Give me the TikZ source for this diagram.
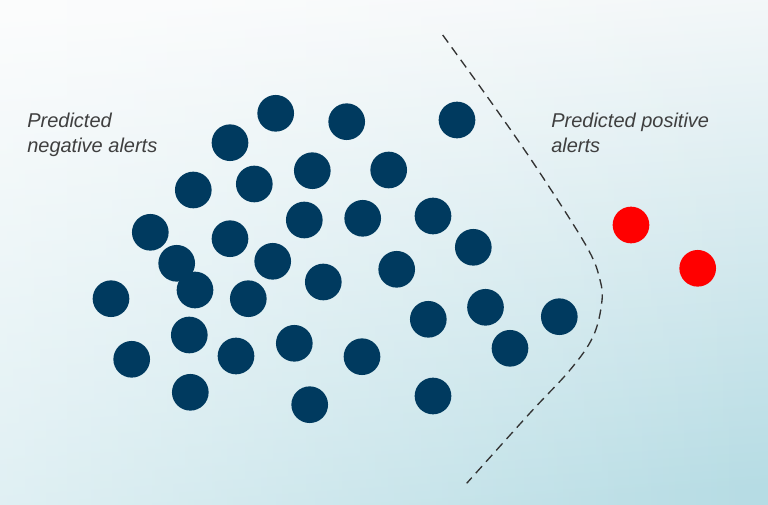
\documentclass[tikz,border=0pt]{standalone}
\usepackage{fontspec}
\setmainfont{Liberation Sans}
\usetikzlibrary{calc,fadings}

\definecolor{navydot}{HTML}{003A5F}
\definecolor{alertred}{HTML}{FF0000}
\definecolor{bgtop}{HTML}{F7F9FA}
\definecolor{bgmid}{HTML}{EBF3F6}
\definecolor{bgbot}{HTML}{B6DCE4}
\definecolor{labelgrey}{HTML}{3F3F3F}

\begin{document}
\begin{tikzpicture}[x=0.75pt,y=-0.75pt,
  negdot/.style={circle,fill=navydot,inner sep=0pt,minimum size=27.5pt},
  posdot/.style={circle,fill=alertred,inner sep=0pt,minimum size=27.5pt},
  alertlabel/.style={font=\fontsize{15}{18.5}\selectfont\itshape,text=labelgrey,
    align=left,anchor=north west,inner sep=0pt}]

  % Background: light top fading to pale teal at the bottom right
  \shade[top color=bgtop,middle color=bgmid,bottom color=bgbot,shading angle=4]
    (0,0) rectangle (768,505);
  \fill[white,fill opacity=0.55,path fading=east] (0,0) rectangle (768,505);
  \useasboundingbox (0,0) rectangle (768,505);

  % --- Predicted negative alerts (dark dots) ---
  \foreach \px/\py [count=\i] in {
      275.7/113.3, 346.7/121.7, 457/120, 230/142.7, 193.3/190, 254.3/184,
      312.3/170.7, 388.7/170, 150.3/232.3, 230/238.7, 304.3/220, 362.7/218.3,
      433/216, 473.3/247.3, 176.7/263.3, 195/290, 272.7/261.3, 323.3/282,
      396.7/269.3, 111/298.7, 248.3/298.7, 428.3/319.3, 485.5/307.3, 189.3/335,
      236/356, 294.3/343.3, 362/356.7, 131.7/359.3, 190.3/392.3, 309.7/404.7,
      433/396, 510/348.3, 559.3/316.7} {
    \node[negdot] (neg\i) at (\px,\py) {};
  }

  % --- Predicted positive alerts (red dots) ---
  \node[posdot] (pos1) at (631,225) {};
  \node[posdot] (pos2) at (697.7,268.3) {};

  % --- Decision boundary ---
  \coordinate (bndtop) at (442.7,35);
  \coordinate (bndbot) at (466.7,483.3);
  \draw[line width=1pt,black!80,dash pattern=on 7pt off 4.5pt]
    plot[smooth,tension=0.6] coordinates {(bndtop) (496.7,110) (540,173)
      (586.7,246.7) (600,280) (601.7,303) (593,336.7) (570,370) (530,413)
      (bndbot)};

  % --- Region labels ---
  \node[alertlabel] (neglabel) at (27,113) {Predicted\\negative alerts};
  \node[alertlabel] (poslabel) at (551,113) {Predicted positive\\alerts};

\end{tikzpicture}
\end{document}
